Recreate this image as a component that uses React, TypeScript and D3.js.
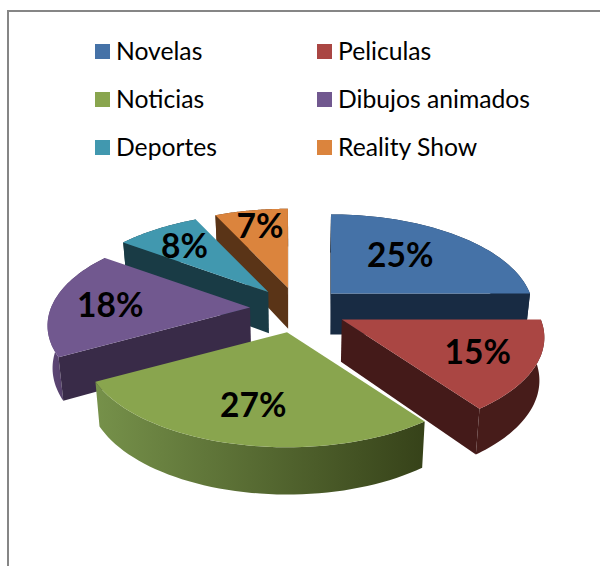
import React from "react";
import * as d3 from "d3";

const categories = ["Novelas", "Peliculas", "Noticias", "Dibujos animados", "Deportes", "Reality Show"];
const values = [25, 15, 27, 18, 8, 7];
const topColors = ["#4572a7", "#aa4643", "#89a54e", "#71588f", "#4198af", "#db843d"];
const wallColors = ["#182b43", "#441a19", "#3b4a1d", "#392b48", "#193b45", "#5a3417"];
const outerLeft = ["#182b43", "#471c1a", "#76914a", "#5f4878", "#193b45", "#5a3417"];
const outerRight = ["#182b43", "#471c1a", "#364219", "#3c2d4b", "#193b45", "#5a3417"];
const labelRadial = [0.55, 0.72, 0.7, 0.71, 0.72, 0.7];
const labelNudge = [[-3, -5], [0, 0], [1, -1], [0, 2], [-1, 1], [-1, -5]];
const drawOrder = [0, 5, 4, 3, 1, 2];

const W = 601, H = 566;
const cx = 298, cy = 309, explode = 0.242;
const R = 199, S = 93.7, K = 0.186;

// perspective projection of a point on the unit disc
function project(theta: number, r: number): [number, number] {
  const u = r * Math.sin(theta), v = r * Math.cos(theta);
  const w = 1 + K * v;
  return [(R * u) / w, (-S * v) / w];
}
// lower face point for a given top face point
function drop([x, y]: [number, number]): [number, number] {
  return [cx + (x - cx) * 0.98, y + 41 + (y - 290) * 0.04];
}

const slices = d3.pie<number>().sort(null).value((d) => d)(values);
const line = d3.line<[number, number]>();

type Pt = [number, number];
type Geo = { apex: Pt; arc: Pt[]; mid: number; inner: Pt };
const geos: Geo[] = slices.map((s) => {
  const mid = (s.startAngle + s.endAngle) / 2;
  const [ox, oy] = project(mid, explode);
  const apex: Pt = [cx + ox, cy + oy];
  const n = 48;
  const arc = d3.range(n + 1).map((i) => {
    const t = s.startAngle + ((s.endAngle - s.startAngle) * i) / n;
    const [x, y] = project(t, 1);
    return [apex[0] + x, apex[1] + y] as Pt;
  });
  const [ix, iy] = project(mid, 0.5);
  return { apex, arc, mid, inner: [apex[0] + ix, apex[1] + iy] };
});

// a radial wall shows only when the top face lies above its edge on screen
function faces(g: Geo, b: Pt) {
  const [ax, ay] = g.apex;
  if (Math.abs(b[0] - ax) < 8) return true;
  const yAt = ay + ((b[1] - ay) * (g.inner[0] - ax)) / (b[0] - ax);
  return g.inner[1] < yAt;
}

export default function App() {
  return (
    <svg width={W} height={H} viewBox={`0 0 ${W} ${H}`} style={{ position: "absolute", left: 0, top: 0, background: "#fff" }}>
      <defs>
        {geos.map((g, i) => {
          const xs = g.arc.map((p) => p[0]);
          return (
            <linearGradient key={i} id={`outer${i}`} gradientUnits="userSpaceOnUse" x1={d3.min(xs)} x2={d3.max(xs)} y1={0} y2={0}>
              <stop offset="0" stopColor={outerLeft[i]} />
              <stop offset="1" stopColor={outerRight[i]} />
            </linearGradient>
          );
        })}
      </defs>
      <path d="M600 11H8V566" fill="none" stroke="#868686" strokeWidth={2} />
      {categories.map((c, i) => {
        const col = i % 2, row = Math.floor(i / 2);
        const x = 95 + col * 222, y = 44 + row * 48;
        return (
          <g key={c}>
            <rect x={x} y={y} width={15} height={15} fill={topColors[i]} />
            <text x={x + 21} y={y + 15.5} fontFamily="Lato, sans-serif" fontSize={24.7} fill="#000">{c}</text>
          </g>
        );
      })}
      {drawOrder.map((i) => {
        const g = geos[i];
        const ends = [g.arc[0], g.arc[g.arc.length - 1]];
        const lowArc = g.arc.map(drop);
        const wall = (a: Pt, b: Pt) => (line([a, b, drop(b), drop(a)]) ?? "") + "Z";
        const outer = (line([...g.arc, ...lowArc.slice().reverse()]) ?? "") + "Z";
        const top = (line([g.apex, ...g.arc]) ?? "") + "Z";
        return (
          <g key={i}>
            <path d={outer} fill={`url(#outer${i})`} />
            {ends.filter((b) => faces(g, b)).map((b, k) => (
              <path key={k} d={wall(g.apex, b)} fill={wallColors[i]} />
            ))}
            <path d={top} fill={topColors[i]} />
          </g>
        );
      })}
      {geos.map((g, i) => {
        const [lx, ly] = project(g.mid, labelRadial[i]);
        return (
          <text key={i} x={g.apex[0] + lx + labelNudge[i][0]} y={g.apex[1] + ly + labelNudge[i][1]} dy="0.36em" textAnchor="middle"
            fontFamily="Lato, sans-serif" fontWeight={700} fontSize={33.5} fill="#000">
            {values[i]}%
          </text>
        );
      })}
    </svg>
  );
}
